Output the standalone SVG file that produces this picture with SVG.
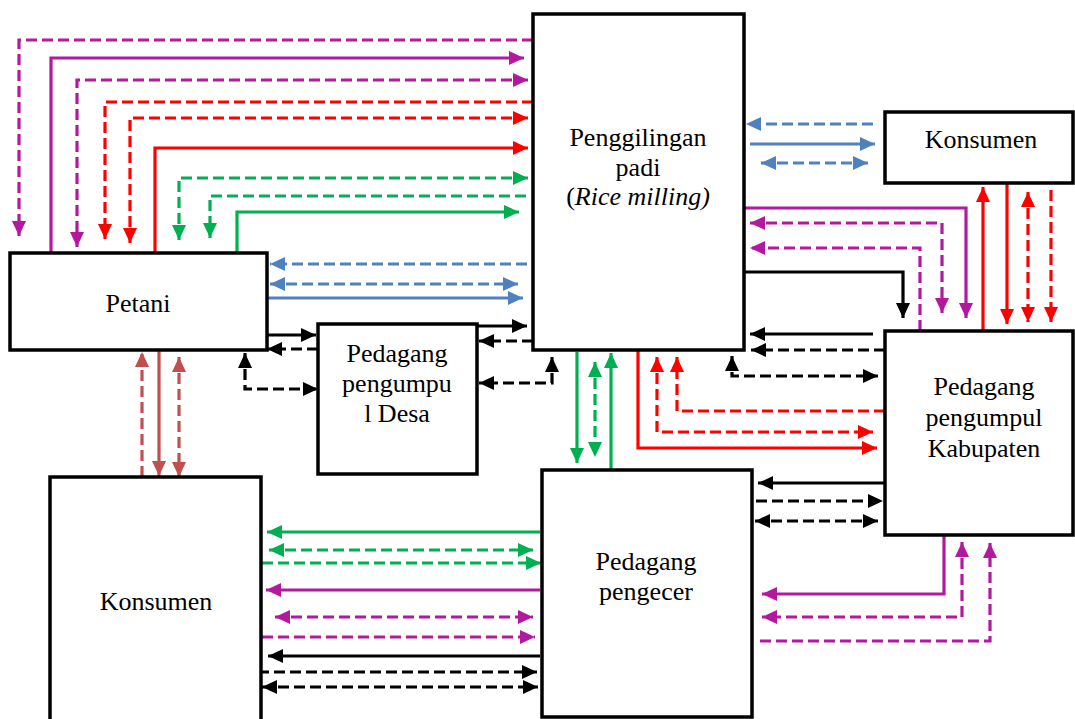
<svg xmlns="http://www.w3.org/2000/svg" width="1075" height="719" viewBox="0 0 1075 719">
<style>
.box{fill:#fff;stroke:#000;stroke-width:3.5}
.t{font-family:"Liberation Serif","Times New Roman",serif;font-size:26px;fill:#000;text-anchor:middle}
.c path{fill:none;stroke-width:3.2}
.d{stroke-dasharray:11 5}
.pu{stroke:#B3199F}.rd{stroke:#FF0000}.gr{stroke:#00B050}.bl{stroke:#4F81BD}.bk{stroke:#000}.br{stroke:#C0504D}
.pu.e{marker-end:url(#mPu)}.pu.s{marker-start:url(#mPu)}
.rd.e{marker-end:url(#mRd)}.rd.s{marker-start:url(#mRd)}
.gr.e{marker-end:url(#mGr)}.gr.s{marker-start:url(#mGr)}
.bl.e{marker-end:url(#mBl)}.bl.s{marker-start:url(#mBl)}
.bk.e{marker-end:url(#mBk)}.bk.s{marker-start:url(#mBk)}
.br.e{marker-end:url(#mBr)}.br.s{marker-start:url(#mBr)}
</style>
<defs>
<marker id="mPu" viewBox="0 0 15 15" refX="15" refY="7.5" markerWidth="15" markerHeight="15" markerUnits="userSpaceOnUse" orient="auto-start-reverse"><path d="M0,0.5 L15,7.5 L0,14.5 z" fill="#B3199F"/></marker>
<marker id="mRd" viewBox="0 0 15 15" refX="15" refY="7.5" markerWidth="15" markerHeight="15" markerUnits="userSpaceOnUse" orient="auto-start-reverse"><path d="M0,0.5 L15,7.5 L0,14.5 z" fill="#FF0000"/></marker>
<marker id="mGr" viewBox="0 0 15 15" refX="15" refY="7.5" markerWidth="15" markerHeight="15" markerUnits="userSpaceOnUse" orient="auto-start-reverse"><path d="M0,0.5 L15,7.5 L0,14.5 z" fill="#00B050"/></marker>
<marker id="mBl" viewBox="0 0 15 15" refX="15" refY="7.5" markerWidth="15" markerHeight="15" markerUnits="userSpaceOnUse" orient="auto-start-reverse"><path d="M0,0.5 L15,7.5 L0,14.5 z" fill="#4F81BD"/></marker>
<marker id="mBk" viewBox="0 0 15 15" refX="15" refY="7.5" markerWidth="15" markerHeight="15" markerUnits="userSpaceOnUse" orient="auto-start-reverse"><path d="M0,0.5 L15,7.5 L0,14.5 z" fill="#000"/></marker>
<marker id="mBr" viewBox="0 0 15 15" refX="15" refY="7.5" markerWidth="15" markerHeight="15" markerUnits="userSpaceOnUse" orient="auto-start-reverse"><path d="M0,0.5 L15,7.5 L0,14.5 z" fill="#C0504D"/></marker>
</defs>
<g id="connectors" class="c">
<path class="pu d e" d="M533,40 H19 V236"/>
<path class="pu e" d="M51,253 V58 H524"/>
<path class="pu d e s" d="M528,80 H77 V247"/>
<path class="rd d e" d="M533,102 H105 V239"/>
<path class="rd d e s" d="M528,118 H130 V243"/>
<path class="rd e" d="M155,253 V148 H528"/>
<path class="gr d e s" d="M528,178 H179 V240"/>
<path class="gr d e" d="M526,196 H210 V238"/>
<path class="gr e" d="M237,253 V212 H519"/>
<path class="bl d e" d="M527,264 H270"/>
<path class="bl d e s" d="M270,284 H518"/>
<path class="bl e" d="M267,298 H523"/>
<path class="bk e" d="M267,335 H316"/>
<path class="bk d e" d="M318,349 H267"/>
<path class="bk e" d="M477,326 H527"/>
<path class="bk d e" d="M533,341 H479"/>
<path class="bk d e s" d="M552,357 V383 H479"/>
<path class="bk d e s" d="M245,353 V389 H318"/>
<path class="br d e" d="M142,477 V352"/>
<path class="br e" d="M159,350 V476"/>
<path class="br d e s" d="M179,357 V477"/>
<path class="bl d e" d="M873,124 H746"/>
<path class="bl e" d="M750,144 H875"/>
<path class="bl d e s" d="M761,163 H868"/>
<path class="pu e" d="M744,208 H966 V318"/>
<path class="pu d e s" d="M750,223 H942 V313"/>
<path class="pu d e" d="M920,331 V248 H750"/>
<path class="bk e" d="M744,272 H903 V318"/>
<path class="rd e" d="M983,331 V187"/>
<path class="rd e" d="M1007,183 V324"/>
<path class="rd d e s" d="M1028,192 V322"/>
<path class="rd d e" d="M1051,190 V322"/>
<path class="bk e" d="M873,334 H750"/>
<path class="bk d e" d="M885,350 H751"/>
<path class="bk d e s" d="M732,356 V376 H878"/>
<path class="gr e" d="M577,352 V463"/>
<path class="gr d e s" d="M595,362 V457"/>
<path class="gr e" d="M611,470 V353"/>
<path class="rd e" d="M638,350 V448 H877"/>
<path class="rd d e s" d="M657,357 V432 H873"/>
<path class="rd d e" d="M885,411 H677 V357"/>
<path class="bk e" d="M885,483 H758"/>
<path class="bk d e" d="M756,501 H883"/>
<path class="bk d e s" d="M755,521 H878"/>
<path class="pu e" d="M944,535 V594 H762"/>
<path class="pu d e s" d="M962,542 V617 H762"/>
<path class="pu d e" d="M760,641 H990 V543"/>
<path class="gr e" d="M540,532 H267"/>
<path class="gr d e s" d="M269,550 H533"/>
<path class="gr d e" d="M262,563 H541"/>
<path class="pu e" d="M540,590 H266"/>
<path class="pu d e s" d="M275,617 H533"/>
<path class="pu d e" d="M262,637 H535"/>
<path class="bk e" d="M540,656 H268"/>
<path class="bk d e" d="M258,672 H537"/>
<path class="bk d e s" d="M262,687 H538"/>
</g>
<g id="penggilingan">
<rect class="box" x="533" y="14" width="211" height="336"/>
<text class="t" x="638" y="146">Penggilingan</text>
<text class="t" x="638" y="176">padi</text>
<text class="t" x="638" y="205">(<tspan font-style="italic">Rice milling)</tspan></text>
</g>
<g id="petani">
<rect class="box" x="10" y="253" width="257" height="97"/>
<text class="t" x="138" y="312">Petani</text>
</g>
<g id="pengumpul-desa">
<rect class="box" x="318" y="324" width="159" height="150"/>
<text class="t" x="397" y="362">Pedagang</text>
<text class="t" x="397" y="392">pengumpu</text>
<text class="t" x="397" y="422">l Desa</text>
</g>
<g id="konsumen-kanan">
<rect class="box" x="885" y="112" width="188" height="71"/>
<text class="t" x="981" y="148">Konsumen</text>
</g>
<g id="pengumpul-kabupaten">
<rect class="box" x="885" y="331" width="188" height="204"/>
<text class="t" x="984" y="395">Pedagang</text>
<text class="t" x="984" y="426">pengumpul</text>
<text class="t" x="984" y="457">Kabupaten</text>
</g>
<g id="pengecer">
<rect class="box" x="542" y="470" width="210" height="247"/>
<text class="t" x="646" y="570">Pedagang</text>
<text class="t" x="646" y="600">pengecer</text>
</g>
<g id="konsumen-kiri">
<rect class="box" x="50" y="477" width="211" height="250"/>
<text class="t" x="156" y="610">Konsumen</text>
</g>
</svg>
